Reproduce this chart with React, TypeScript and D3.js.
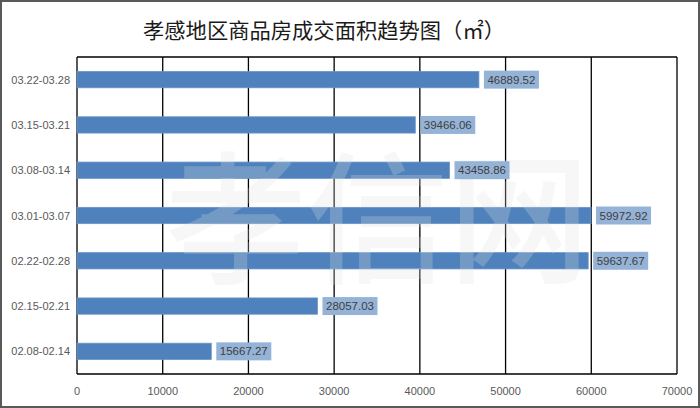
import React from "react";
import * as d3 from "d3";

const categories = ["03.22-03.28", "03.15-03.21", "03.08-03.14", "03.01-03.07", "02.22-02.28", "02.15-02.21", "02.08-02.14"];
const values = [46889.52, 39466.06, 43458.86, 59972.92, 59637.67, 28057.03, 15667.27];
const xTicks = [0, 10000, 20000, 30000, 40000, 50000, 60000, 70000];
const title = "孝感地区商品房成交面积趋势图（㎡）";
const watermark = "孝信网";

const W = 700, H = 408;
const left = 77, right = 677, top = 57, bottom = 374;

export default function App() {
  const x = d3.scaleLinear().domain([0, 70000]).range([left, right]);
  const y = d3.scaleBand().domain(categories).range([top, bottom]).paddingInner(0.64).paddingOuter(0.32);
  const bh = y.bandwidth();
  return (
    <svg width={W} height={H} style={{ position: "absolute", left: 0, top: 0, display: "block" }}
      fontFamily="'Liberation Sans', 'Noto Sans', sans-serif">
      <rect x={0} y={0} width={W} height={H} fill="#fff" />
      <rect x={1} y={1} width={W - 2} height={H - 2} fill="none" stroke="#595959" strokeWidth={2} />
      <text x={324} y={38} textAnchor="middle" fontSize={21} fontFamily="'Noto Sans CJK SC'" fill="#1a1a1a"
        textLength={362} lengthAdjust="spacingAndGlyphs">{title}</text>
      {/* grid */}
      <line x1={left} x2={right} y1={top} y2={top} stroke="#000" strokeWidth={1.3} />
      {xTicks.map(t => (
        <line key={t} x1={x(t)} x2={x(t)} y1={top} y2={bottom} stroke="#000" strokeWidth={1.3} />
      ))}
      {/* bars */}
      {categories.map((c, i) => (
        <rect key={c} x={x(0)} y={y(c)!} width={x(values[i]) - x(0)} height={bh} fill="#4f81bd" stroke="#6a95c8" strokeWidth={0.8} />
      ))}
      <line x1={left} x2={right} y1={bottom} y2={bottom} stroke="#000" strokeWidth={1.5} />
      <g opacity={0.25}>
        <text x={165} y={272} fontSize={142} fontWeight={500} fontFamily="'Noto Sans CJK SC'" fill="#e0e0e0"
          textLength={425} lengthAdjust="spacingAndGlyphs">{watermark}</text>
      </g>
      {/* labels */}
      {categories.map((c, i) => {
        const lx = x(values[i]) + 5;
        const label = values[i].toFixed(2);
        const cy = y(c)! + bh / 2;
        return (
          <g key={c + "l"}>
            <rect x={lx} y={cy - 9} width={55} height={18} fill="#95b3d7" />
            <text x={lx + 27.5} y={cy + 4} textAnchor="middle" fontSize={11.5} fill="#404040">{label}</text>
          </g>
        );
      })}
      {categories.map(c => (
        <text key={c + "c"} x={70} y={y(c)! + bh / 2 + 4} textAnchor="end" fontSize={11} fill="#595959">{c}</text>
      ))}
      {xTicks.map(t => (
        <text key={t + "t"} x={x(t)} y={395} textAnchor="middle" fontSize={11} fill="#595959">{t}</text>
      ))}
    </svg>
  );
}
